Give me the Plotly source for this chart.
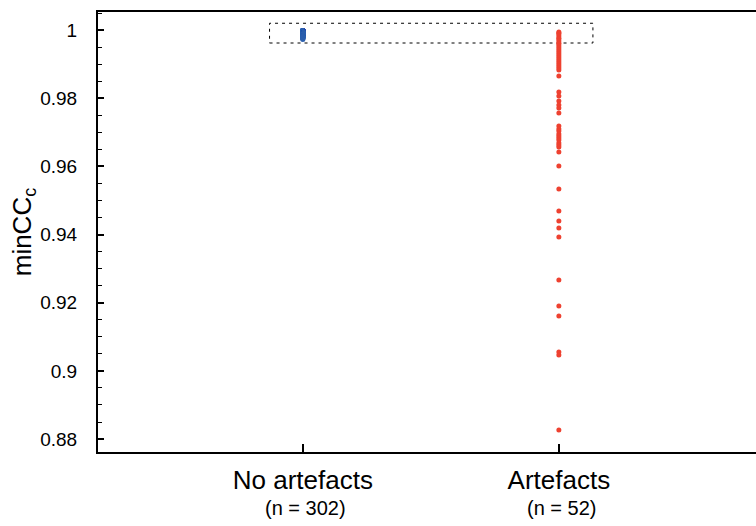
import plotly.graph_objects as go

# ---- data ----
categories = ["No artefacts", "Artefacts"]
counts_label = ["(n = 302)", "(n = 52)"]

# No artefacts: values (read off the tight cluster) and how many points sit at each
no_art_values = [0.9999, 0.9998, 0.9997, 0.9996, 0.9995, 0.9994, 0.9993, 0.9992, 0.9991,
                 0.9990, 0.9988, 0.9986, 0.9984, 0.9982, 0.9980, 0.9978, 0.9975, 0.9972]
no_art_counts = [30, 42, 38, 33, 28, 24, 20, 17, 14, 12, 10, 8, 7, 6, 5, 4, 3, 1]

art_values = [0.99941, 0.99912, 0.99883, 0.99824, 0.99765, 0.99736, 0.99677, 0.99619,
              0.99589, 0.99531, 0.99472, 0.99413, 0.99354, 0.99296, 0.99237, 0.99178,
              0.99120, 0.99061, 0.99002, 0.98944, 0.98885, 0.98826, 0.98650, 0.98181,
              0.98063, 0.97917, 0.97799, 0.97711, 0.97565, 0.97183, 0.97095, 0.97036,
              0.96948, 0.96890, 0.96831, 0.96772, 0.96684, 0.96626, 0.96567, 0.96420,
              0.96009, 0.95335, 0.94689, 0.94396, 0.94190, 0.93926, 0.92664, 0.91901,
              0.91608, 0.90552, 0.90464, 0.88263]

box_x = [-0.13, 1.133]
box_y = [0.9962, 1.0020]

y_range = [0.8762, 1.0053]
x_range = [-0.8, 1.77]
y_ticks = [0.88, 0.90, 0.92, 0.94, 0.96, 0.98, 1.0]
y_ticktext = ["0.88", "0.9", "0.92", "0.94", "0.96", "0.98", "1"]

BLUE = "#2b5fad"
RED = "#ee4130"
FONT = "Liberation Sans, Arial, Helvetica, sans-serif"

no_art_y = []
for v, c in zip(no_art_values, no_art_counts):
    no_art_y += [v] * c

fig = go.Figure()
fig.add_trace(go.Scatter(x=[0] * len(no_art_y), y=no_art_y, mode="markers",
                         marker=dict(size=5, color=BLUE, line=dict(width=0)),
                         showlegend=False, hoverinfo="y"))
fig.add_trace(go.Scatter(x=[1] * len(art_values), y=art_values, mode="markers",
                         marker=dict(size=5, color=RED, line=dict(width=0)),
                         showlegend=False, hoverinfo="y"))

fig.add_shape(type="rect", x0=box_x[0], x1=box_x[1], y0=box_y[0], y1=box_y[1],
              line=dict(color="black", width=1, dash="3px,4px"), layer="below")

for i, t in enumerate(counts_label):
    fig.add_annotation(x=i, xref="x", y=0, yref="paper", text=t, showarrow=False,
                       yanchor="top", yshift=-43, xshift=3,
                       font=dict(family=FONT, size=20, color="black"))

fig.update_layout(
    width=756, height=526,
    margin=dict(l=98, r=0, t=12, b=74),
    plot_bgcolor="white", paper_bgcolor="white",
    font=dict(family=FONT, color="black"),
    xaxis=dict(range=x_range, tickmode="array", tickvals=[0, 1], ticktext=categories,
               ticks="inside", ticklen=8, tickwidth=2, tickcolor="black",
               showline=True, linecolor="black", linewidth=2, mirror=True,
               showgrid=False, zeroline=False,
               tickfont=dict(family=FONT, size=26, color="black"),
               ticklabelstandoff=4),
    yaxis=dict(range=y_range, tickmode="array", tickvals=y_ticks, ticktext=y_ticktext,
               ticks="inside", ticklen=6, tickwidth=1.5, tickcolor="black",
               minor=dict(dtick=0.005, ticks="inside", ticklen=4, tickwidth=1, tickcolor="black"),
               showline=True, linecolor="black", linewidth=2, mirror=False,
               showgrid=False, zeroline=False,
               tickfont=dict(family=FONT, size=19, color="black"),
               ticklabelstandoff=15,
               title=dict(text="minCC<sub>c</sub>", font=dict(family=FONT, size=26, color="black"),
                          standoff=1)),
)

fig.write_html("out.html")
